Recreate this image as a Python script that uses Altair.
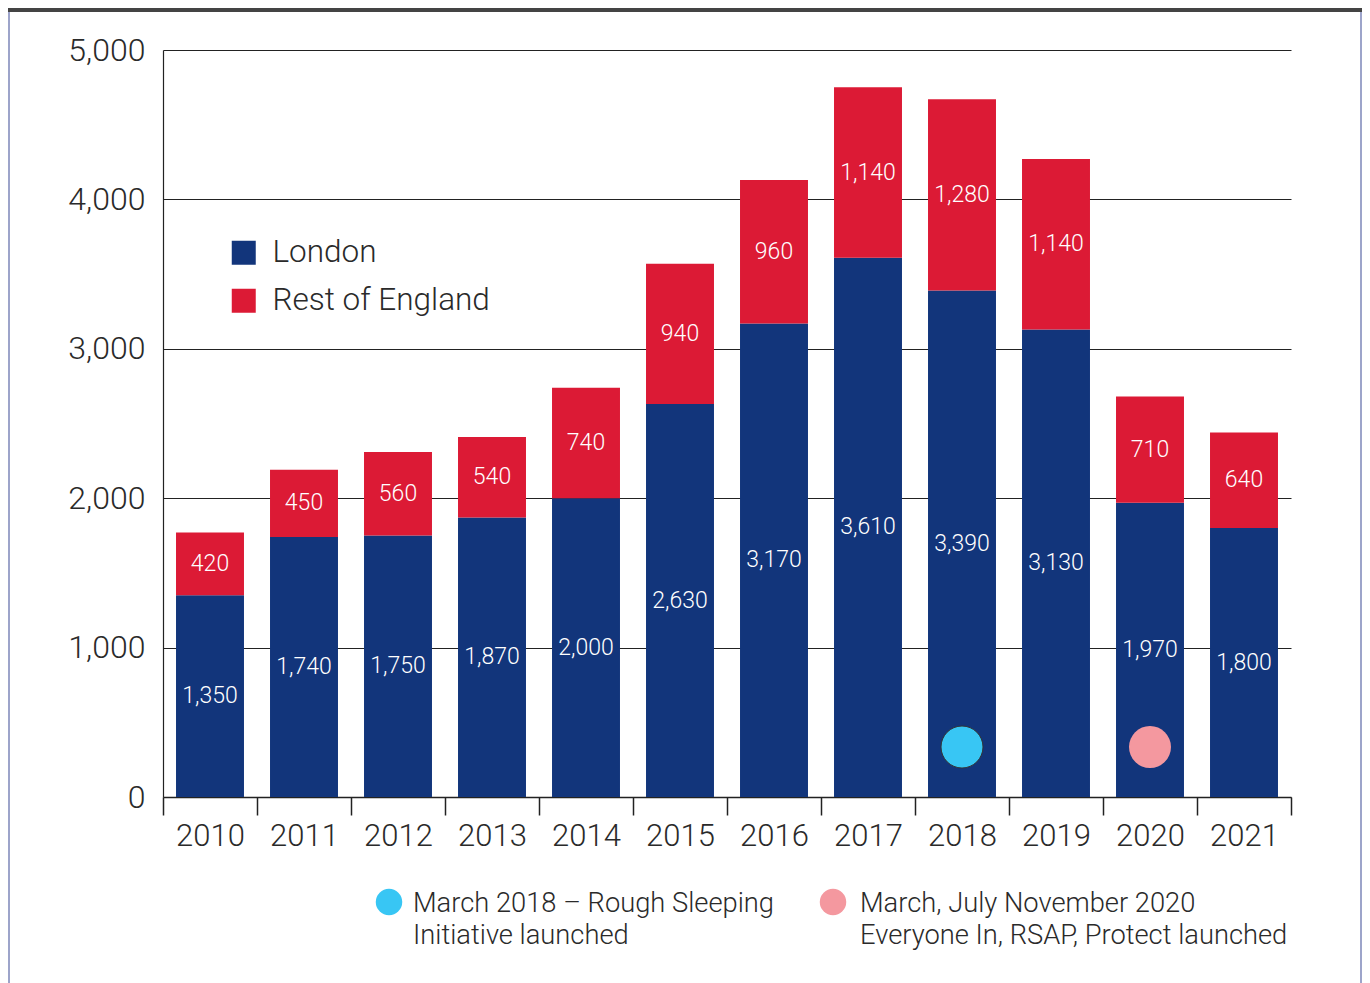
import altair as alt
import pandas as pd

# ---- data ----
years = [str(y) for y in range(2010, 2022)]
london = [1350, 1740, 1750, 1870, 2000, 2630, 3170, 3610, 3390, 3130, 1970, 1800]
rest_of_england = [420, 450, 560, 540, 740, 940, 960, 1140, 1280, 1140, 710, 640]
series = ["London", "Rest of England"]
y_ticks = [0, 1000, 2000, 3000, 4000, 5000]
event_years = ["2018", "2020"]
event_labels = [
    "March 2018 – Rough Sleeping\nInitiative launched",
    "March, July November 2020\nEveryone In, RSAP, Protect launched",
]

# ---- styles ----
NAVY = "#12357B"
RED = "#DC1A35"
CYAN = "#38C6F4"
PINK = "#F4989F"
FONT = "Roboto"
FW = 300
TXT = "#2a2a2a"
W, H = 1128, 747

rows = []
for i, y in enumerate(years):
    rows.append({"year": y, "series": series[0], "value": london[i], "order": 0})
    rows.append({"year": y, "series": series[1], "value": rest_of_england[i], "order": 1})
df = pd.DataFrame(rows)
ev = pd.DataFrame({"year": event_years, "label": event_labels})

xs = alt.X("year:O", sort=years, title=None,
           scale=alt.Scale(paddingInner=0, paddingOuter=0))
y_axis = alt.Axis(values=y_ticks, format=",d")
y_scale = alt.Scale(domain=[0, 5000], nice=False)

bars = alt.Chart(df).mark_bar(width=alt.RelativeBandSize(0.723)).encode(
    x=xs,
    y=alt.Y("value:Q", stack="zero", title=None, scale=y_scale, axis=y_axis),
    color=alt.Color("series:N", scale=alt.Scale(domain=series, range=[NAVY, RED]),
                    legend=alt.Legend(title=None, orient="none", legendX=65, legendY=187)),
    order=alt.Order("order:Q"),
)

labels = alt.Chart(df).transform_stack(
    stack="value", groupby=["year"], sort=[alt.SortField("order")], as_=["y0", "y1"]
).transform_calculate(mid="(datum.y0 + datum.y1) / 2").mark_text(
    color="white", fontSize=23, font=FONT, fontWeight=FW, baseline="middle"
).encode(
    x=xs,
    y=alt.Y("mid:Q", title=None, scale=y_scale, axis=y_axis),
    text=alt.Text("value:Q", format=","),
)

markers = alt.Chart(ev).mark_circle(size=1764, opacity=1, strokeWidth=1).encode(
    x=xs,
    y=alt.value(H - 50),
    fill=alt.condition(alt.datum.year == event_years[0], alt.value(CYAN), alt.value(PINK)),
    stroke=alt.condition(alt.datum.year == event_years[0], alt.value("#333333"), alt.value("transparent")),
)

note1_dot = alt.Chart(ev).transform_filter(alt.datum.year == event_years[0]).mark_circle(
    size=700, opacity=1, color=CYAN).encode(x=alt.value(226), y=alt.value(852))
note1_txt = alt.Chart(ev).transform_filter(alt.datum.year == event_years[0]).mark_text(
    align="left", baseline="alphabetic", lineBreak="\n", lineHeight=32,
    fontSize=27.3, font=FONT, fontWeight=FW, color=TXT).encode(x=alt.value(250), y=alt.value(862), text="label:N")
note2_dot = alt.Chart(ev).transform_filter(alt.datum.year == event_years[1]).mark_circle(
    size=700, opacity=1, color=PINK).encode(x=alt.value(670), y=alt.value(852))
note2_txt = alt.Chart(ev).transform_filter(alt.datum.year == event_years[1]).mark_text(
    align="left", baseline="alphabetic", lineBreak="\n", lineHeight=32,
    fontSize=27.3, font=FONT, fontWeight=FW, color=TXT).encode(x=alt.value(697), y=alt.value(862), text="label:N")

frame_l = alt.Chart(ev).transform_filter(alt.datum.year == event_years[0]).mark_rule(
    color="#7C86B8", strokeWidth=1.5).encode(
    x=alt.value(-154), y=alt.value(-42), y2=alt.value(H + 186))
frame_r = alt.Chart(ev).transform_filter(alt.datum.year == event_years[0]).mark_rule(
    color="#7C86B8", strokeWidth=1.5).encode(
    x=alt.value(1198), y=alt.value(-42), y2=alt.value(H + 186))
frame_t = alt.Chart(ev).transform_filter(alt.datum.year == event_years[0]).mark_rule(
    color="#444444", strokeWidth=4).encode(
    x=alt.value(-155), x2=alt.value(1199), y=alt.value(-40))

chart = alt.layer(
    bars, labels, markers, note1_dot, note1_txt, note2_dot, note2_txt, frame_l, frame_r, frame_t
).properties(
    width=W, height=H,
    autosize=alt.AutoSizeParams(type="none"),
    padding={"left": 155, "top": 42, "right": 71, "bottom": 186},
).configure_view(stroke=None).configure_axis(
    labelFont=FONT, labelFontWeight=FW, labelColor=TXT, domainColor="#222222", tickColor="#222222",
).configure_axisX(
    labelAngle=0, labelFontSize=31, tickBand="extent", tickSize=18, tickWidth=1.5,
    domainWidth=1.5, labelPadding=6, grid=False,
).configure_axisY(
    labelFontSize=32, tickSize=0, labelPadding=18, domainWidth=1.2,
    grid=True, gridColor="#222222", gridWidth=1, gridOpacity=1,
).configure_legend(
    labelFont=FONT, labelFontWeight=FW, labelFontSize=31.5, labelColor=TXT, symbolType="square",
    symbolSize=576, symbolStrokeWidth=0, symbolOpacity=1, labelOffset=13, rowPadding=15,
    padding=0, labelLimit=500,
)

chart.save("out.html", embed_options={"renderer": "svg", "actions": False})
